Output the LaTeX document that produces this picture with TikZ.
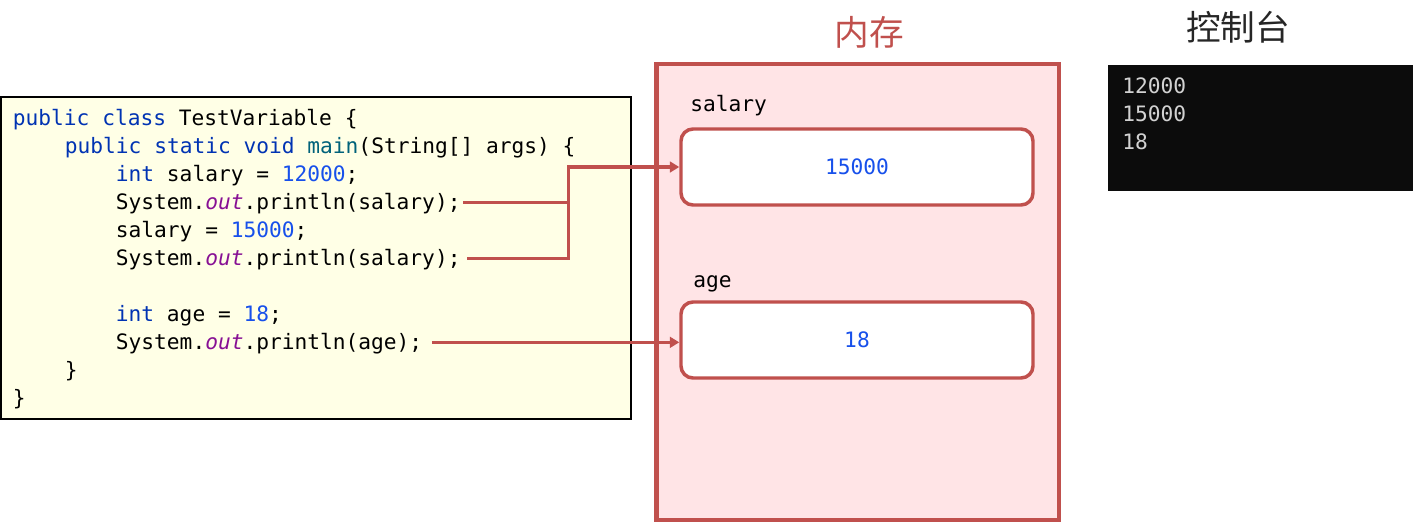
\documentclass[tikz,border=0pt]{standalone}
\usepackage{fontspec}
\usetikzlibrary{arrows.meta}
\newfontfamily\codefont{DejaVu Sans Mono}
\newfontfamily\cjk{Noto Sans CJK SC}

\definecolor{memRed}{RGB}{192,80,77}
\definecolor{memFill}{RGB}{255,228,230}
\definecolor{codeFill}{RGB}{255,255,230}
\definecolor{kwBlue}{RGB}{0,51,179}
\definecolor{numBlue}{RGB}{23,80,235}
\definecolor{fnTeal}{RGB}{0,98,122}
\definecolor{fldPurple}{RGB}{135,16,148}
\definecolor{consoleBg}{RGB}{12,12,12}
\definecolor{consoleFg}{RGB}{210,210,210}

\newcommand{\kw}[1]{\textcolor{kwBlue}{#1}}
\newcommand{\numlit}[1]{\textcolor{numBlue}{#1}}
\newcommand{\fn}[1]{\textcolor{fnTeal}{#1}}
\newcommand{\fld}[1]{\textcolor{fldPurple}{\itshape #1}}

\tikzstyle{codeLine} = [anchor=base west, inner sep=2pt, text height=13pt, text depth=3pt, font=\codefont\fontsize{15.9}{19}\selectfont]
\tikzstyle{memLabel} = [anchor=base west, inner sep=0pt, font=\codefont\fontsize{15.9}{19}\selectfont]
\tikzstyle{valBox} = [rectangle, rounded corners=9pt, minimum width=264pt, minimum height=57pt, draw=memRed, line width=2.6pt, fill=white, text=numBlue, font=\codefont\fontsize{15.9}{19}\selectfont]
\tikzstyle{title} = [font=\cjk\fontsize{26}{30}\selectfont]
\tikzstyle{arrow} = [draw=memRed, line width=2.6pt, -{Triangle[length=7pt,width=8pt]}]
\tikzstyle{link} = [draw=memRed, line width=2.6pt]

\begin{document}
\begin{tikzpicture}[x=0.75pt, y=-0.75pt]
  \useasboundingbox (0,0) rectangle (1414,522);

  % code
  \node (code)[rectangle, draw=black, line width=1.5pt, fill=codeFill, minimum width=472.5pt, minimum height=241.5pt] at (316,258) {};
  \node (l1)[codeLine] at (10,125) {\kw{public} \kw{class} TestVariable \{};
  \node (l2)[codeLine] at (62,153) {\kw{public} \kw{static} \kw{void} \fn{main}(String[] args) \{};
  \node (l3)[codeLine] at (113,181) {\kw{int} salary = \numlit{12000};};
  \node (l4)[codeLine] at (113,209) {System.\fld{out}.println(salary);};
  \node (l5)[codeLine] at (113,237) {salary = \numlit{15000};};
  \node (l6)[codeLine] at (113,265) {System.\fld{out}.println(salary);};
  \node (l7)[codeLine] at (113,321) {\kw{int} age = \numlit{18};};
  \node (l8)[codeLine] at (113,349) {System.\fld{out}.println(age);};
  \node (l9)[codeLine] at (62,377) {\}};
  \node (l10)[codeLine] at (10,405) {\}};

  % memory
  \node (memTitle)[title, text=memRed] at (869,32) {内存};
  \node (mem)[rectangle, draw=memRed, line width=3.5pt, fill=memFill, minimum width=302pt, minimum height=342pt] at (857.5,292) {};
  \node (salaryName)[memLabel] at (690,111) {salary};
  \node (val1)[valBox] at (857,167) {15000};
  \node (ageName)[memLabel] at (693,287) {age};
  \node (val2)[valBox] at (857,340) {18};

  % console
  \node (conTitle)[title, text=black!85] at (1238,27) {控制台};
  \node (con)[rectangle, fill=consoleBg, minimum width=228.75pt, minimum height=94.5pt] at (1260.5,128) {};
  \node (out1)[memLabel, text=consoleFg] at (1122,93) {12000};
  \node (out2)[memLabel, text=consoleFg] at (1122,121) {15000};
  \node (out3)[memLabel, text=consoleFg] at (1122,149) {18};

  \path (val1.west) ++(-111,0) coordinate (jn);
  \draw [arrow] (l4.east) -| (jn) -- (val1.west);
  \draw [link] ([xshift=3pt]l6.east) -| (jn);
  \draw [arrow] ([xshift=5pt]l8.east) -- (l8.east -| val2.west);
\end{tikzpicture}
\end{document}
